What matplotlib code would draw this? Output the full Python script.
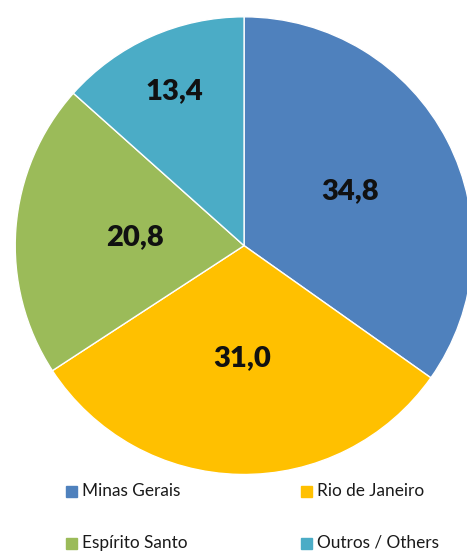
import matplotlib.pyplot as plt
import numpy as np

plt.rcParams['font.family'] = ['Lato', 'DejaVu Sans']

labels = ['Minas Gerais', 'Rio de Janeiro', 'Espírito Santo', 'Outros / Others']
values = [34.8, 31.0, 20.8, 13.4]
value_text = ['34,8', '31,0', '20,8', '13,4']
colors = ['#4F81BD', '#FFC000', '#9BBB59', '#4BACC6']

fig = plt.figure(figsize=(4.67, 5.52), dpi=100)
ax = fig.add_axes([0.0326, 0.136, 0.98, 0.838])

wedges, _ = ax.pie(values, colors=colors, startangle=90, counterclock=False,
                   radius=1, wedgeprops=dict(edgecolor='white', linewidth=1))

# label distance from centre per slice
label_r = [0.52, 0.49, 0.48, 0.74]
for w, txt, r in zip(wedges, value_text, label_r):
    ang = np.deg2rad((w.theta1 + w.theta2) / 2)
    ax.text(r * np.cos(ang), r * np.sin(ang), txt, ha='center', va='center',
            fontsize=21, fontweight='heavy', color='#111111')

ax.set_xlim(-1, 1)
ax.set_ylim(-1, 1)
ax.set_aspect('equal')

# legend, 2 x 2 grid
pos = [(66, 491), (301, 491), (66, 543), (301, 543)]
for (px, py), lab, c in zip(pos, labels, colors):
    fx, fy = px / 467, 1 - py / 552
    fig.patches.append(plt.Rectangle((fx, fy - 5.5 / 552), 11 / 467, 11 / 552,
                                     transform=fig.transFigure, color=c))
    fig.text(fx + 16 / 467, fy, lab, ha='left', va='center', fontsize=12.4,
             color='#1a1a1a')

fig.savefig('out.png', dpi=100)
